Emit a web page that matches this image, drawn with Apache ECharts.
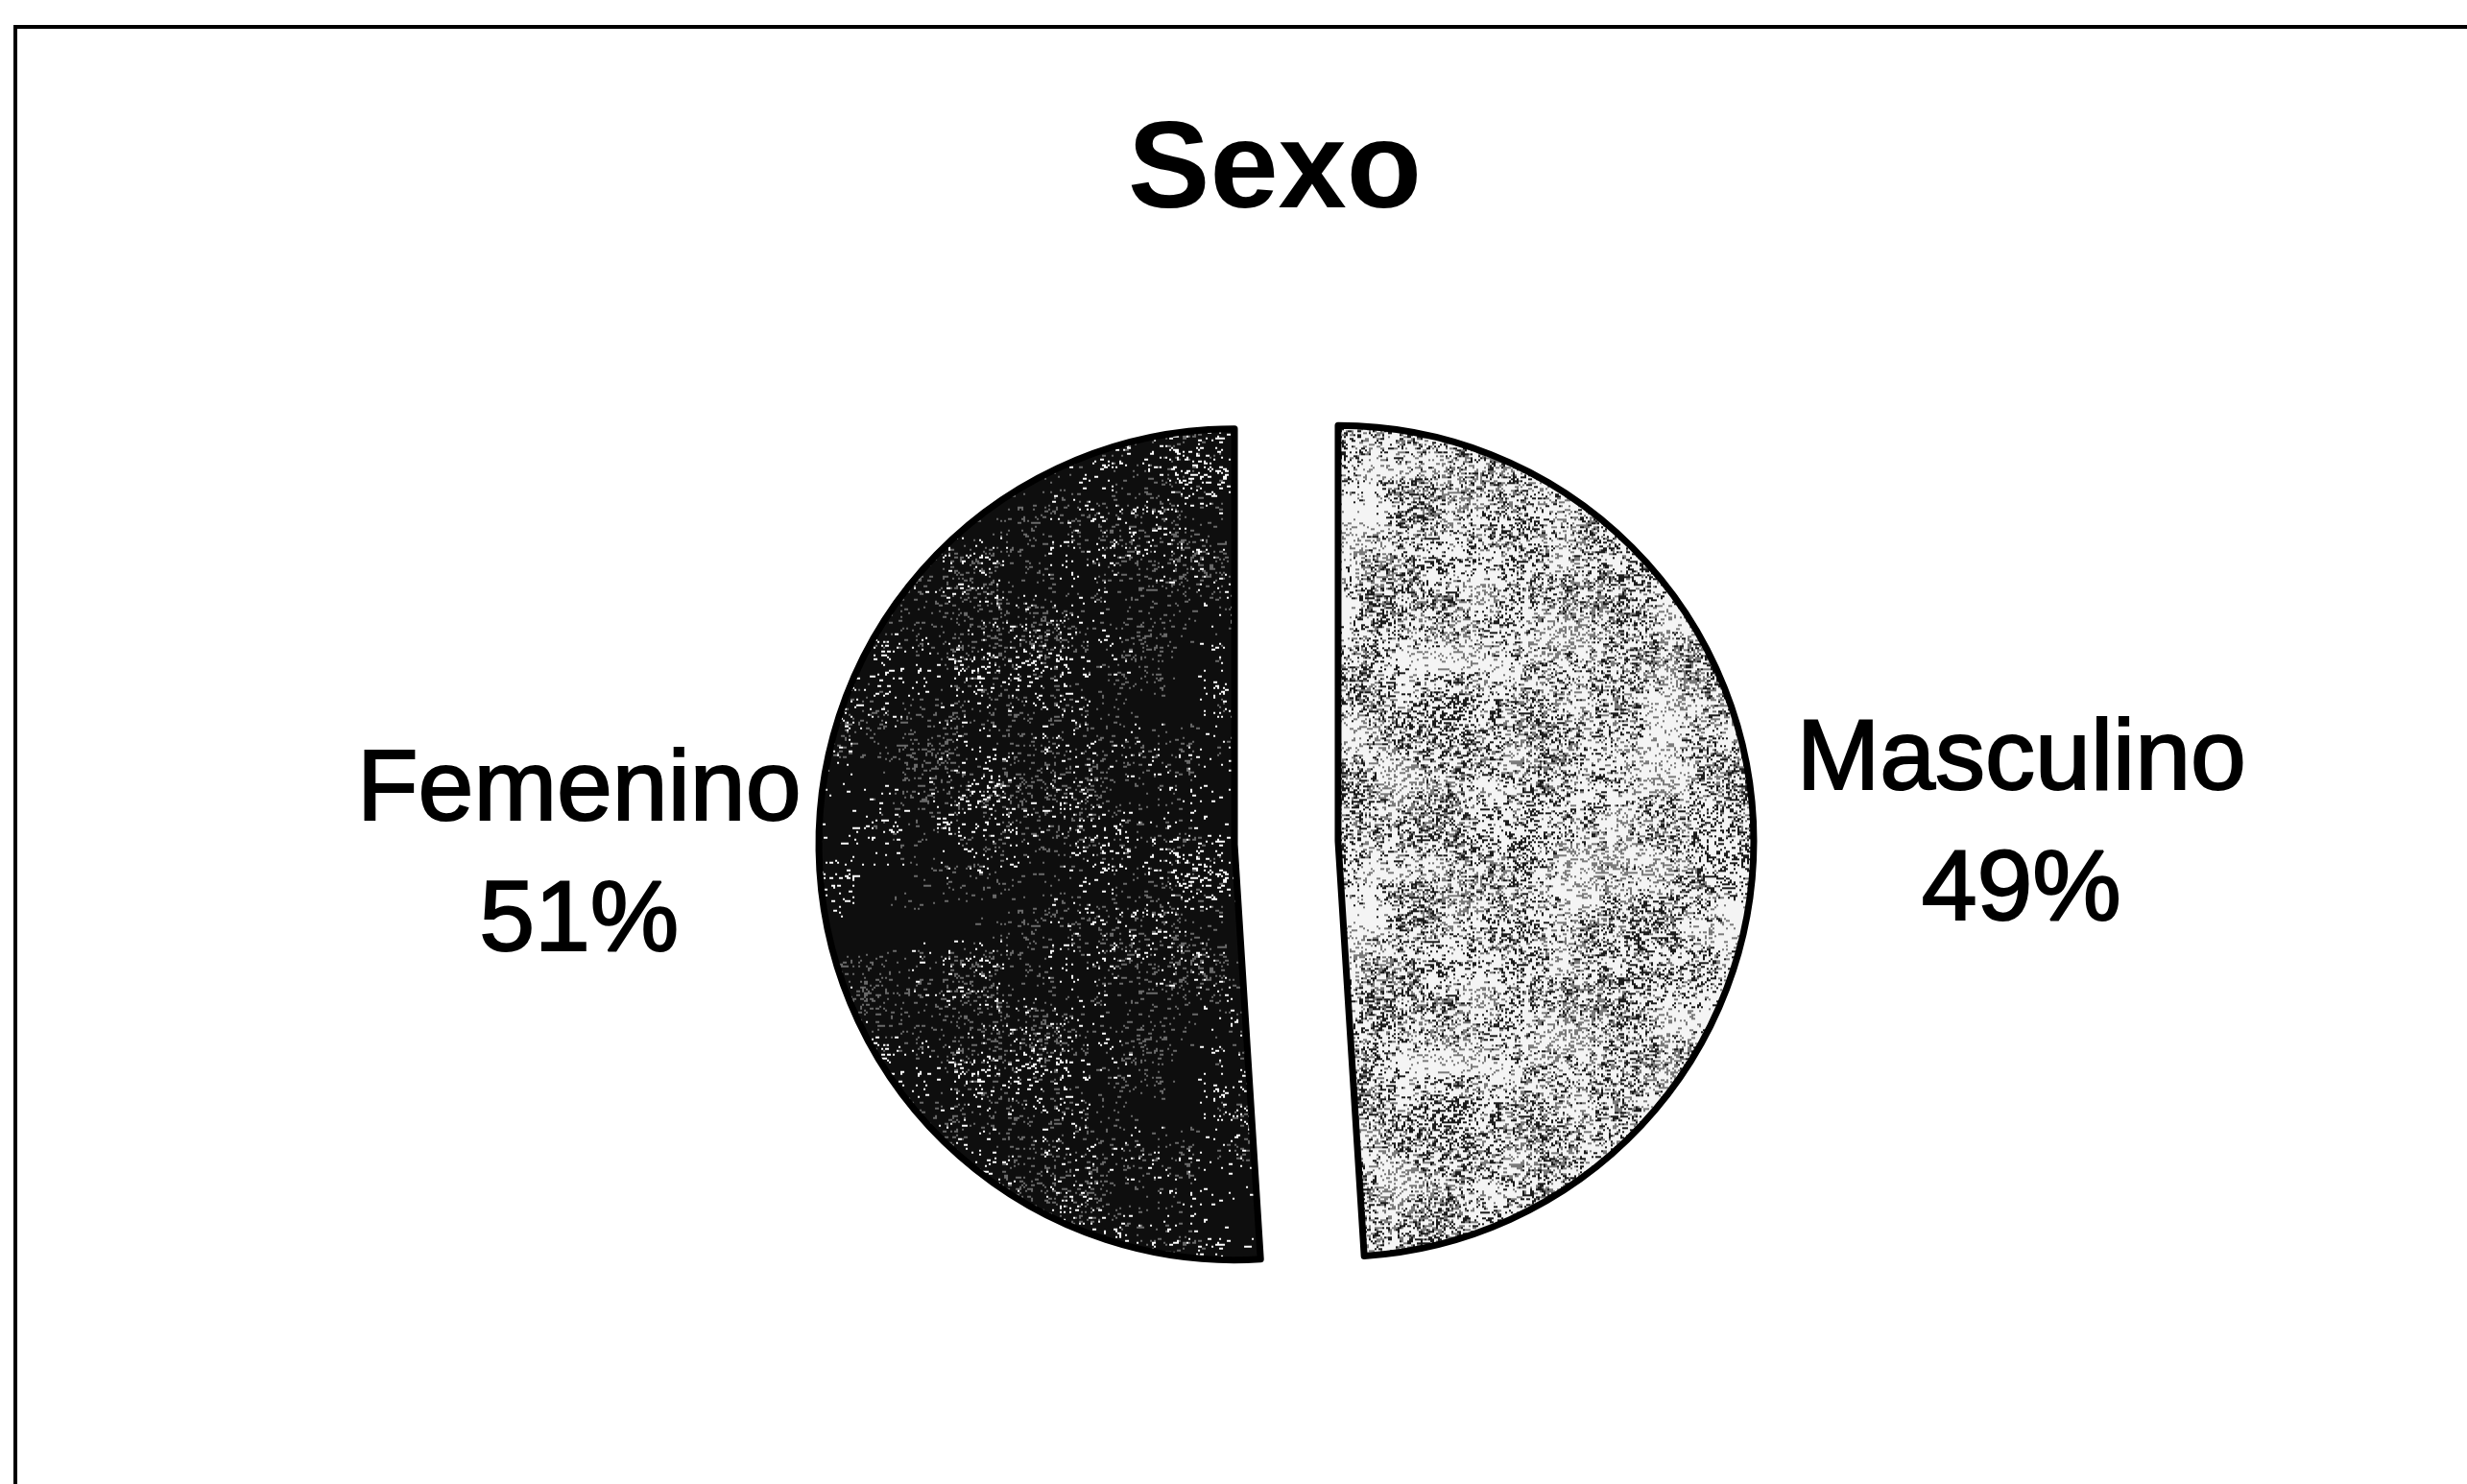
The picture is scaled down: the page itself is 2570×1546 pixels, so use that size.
<!DOCTYPE html>
<html>
<head>
<meta charset="utf-8">
<script src="https://cdn.jsdelivr.net/npm/echarts@6/dist/echarts.min.js"></script>
<style>
  html, body { margin: 0; padding: 0; background: #fff; }
  #sexoPie { width: 2570px; height: 1546px; }
</style>
</head>
<body>
<div id="sexoPie"></div>
<script>
// datos del grafico
var chartTitle = 'Sexo';
var categorias = ['Masculino', 'Femenino'];
var porcentajes = [49, 51];

// textura granulada (solo estilo, semilla fija)
function makeTexture(base, specks, seed) {
    var size = 420;
    var c = document.createElement('canvas');
    c.width = size; c.height = size;
    var ctx = c.getContext('2d');
    ctx.fillStyle = base;
    ctx.fillRect(0, 0, size, size);
    var s = seed;
    function rnd() { s = (s * 16807) % 2147483647; return s / 2147483647; }
    for (var k = 0; k < specks.length; k++) {
        ctx.fillStyle = specks[k].color;
        // manchas agrupadas
        for (var g = 0; g < specks[k].clusters; g++) {
            var gx = rnd() * size, gy = rnd() * size;
            var spread = specks[k].spread;
            for (var i = 0; i < specks[k].perCluster; i++) {
                var x = Math.floor((gx + (rnd() - 0.5) * spread + size) % size / 2) * 2;
                var y = Math.floor((gy + (rnd() - 0.5) * spread + size) % size / 2) * 2;
                ctx.fillRect(x, y, 2 + (rnd() < 0.3 ? 2 : 0), 2);
            }
        }
    }
    return c;
}

var texMasc = makeTexture('#f4f4f4', [
    {color: '#1a1a1a', clusters: 120, perCluster: 70, spread: 50},
    {color: '#7a7a7a', clusters: 120, perCluster: 60, spread: 70}
], 12345);
var texFem = makeTexture('#0e0e0e', [
    {color: '#ffffff', clusters: 60, perCluster: 25, spread: 60},
    {color: '#6a6a6a', clusters: 80, perCluster: 30, spread: 60}
], 67890);
var texturas = [texMasc, texFem];
var labelLen = [34, 5];

var myChart = echarts.init(document.getElementById('sexoPie'));
var pieData = [];
for (var i = 0; i < categorias.length; i++) {
    pieData.push({
        name: categorias[i],
        value: porcentajes[i],
        selected: true,
        itemStyle: { color: { image: texturas[i], repeat: 'repeat' } },
        labelLine: { length: labelLen[i], length2: 0 }
    });
}

var option = {
    animation: false,
    backgroundColor: '#fff',
    title: {
        text: chartTitle,
        left: 1323,
        top: 112,
        textAlign: 'center',
        textStyle: {
            fontFamily: 'Liberation Sans',
            fontWeight: 'bold',
            fontSize: 128,
            color: '#000'
        }
    },
    graphic: [{
        type: 'rect',
        shape: { x: 16, y: 28, width: 2700, height: 1700 },
        style: { fill: null, stroke: '#000', lineWidth: 4 },
        silent: true
    }],
    series: [{
        type: 'pie',
        center: [1340, 878],
        radius: 433,
        startAngle: 90,
        clockwise: true,
        selectedMode: 'multiple',
        selectedOffset: 54,
        avoidLabelOverlap: false,
        itemStyle: { borderColor: '#000', borderWidth: 7 },
        select: { itemStyle: { borderColor: '#000', borderWidth: 7 } },
        emphasis: { disabled: true },
        label: {
            show: true,
            position: 'outside',
            formatter: function (p) {
                return '{t|' + p.name + '}\n{t|' + p.value + '%}';
            },
            rich: {
                t: {
                    fontFamily: 'Liberation Sans',
                    fontSize: 104,
                    lineHeight: 136,
                    width: 480,
                    align: 'center',
                    color: '#000',
                    textBorderColor: '#000',
                    textBorderWidth: 2
                }
            }
        },
        labelLine: { show: false },
        data: pieData
    }]
};
myChart.setOption(option);
</script>
</body>
</html>
